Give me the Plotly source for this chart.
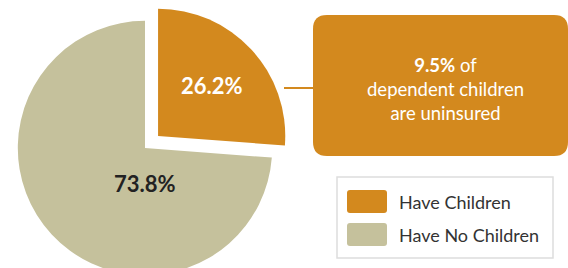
import plotly.graph_objects as go

# ---- data ----
labels = ["Have Children", "Have No Children"]
values = [26.2, 73.8]
colors = ["#D3891E", "#C5C19C"]
text_colors = ["#FFFFFF", "#222222"]
pulls = [0.14, 0.0]
callout_value = "9.5%"
callout_lines = ["of", "dependent children", "are uninsured"]
title_text = "Dependents of the Uninsured without Health Coverage"

W, H = 568, 296
FONT = "Lato"


def px(x):
    return x / W


def py(y):
    return 1 - y / H


fig = go.Figure()
fig.add_trace(go.Pie(
    labels=labels,
    values=values,
    marker=dict(colors=colors, line=dict(width=0)),
    pull=pulls,
    sort=False,
    direction="clockwise",
    rotation=0,
    texttemplate=["%{value:.1f}%", ""],
    textposition="inside",
    insidetextorientation="horizontal",
    insidetextfont=dict(color=text_colors, size=22, family=FONT, weight="bold"),
    domain=dict(x=[0, 290 / W], y=[0, 1]),
    showlegend=False,
    hoverinfo="label+percent",
))


def rounded_rect(x0, y0, x1, y1, r):
    P = lambda x, y: f"{px(x):.5f},{py(y):.5f}"
    return (f"M {P(x0 + r, y0)} L {P(x1 - r, y0)} Q {P(x1, y0)} {P(x1, y0 + r)} "
            f"L {P(x1, y1 - r)} Q {P(x1, y1)} {P(x1 - r, y1)} "
            f"L {P(x0 + r, y1)} Q {P(x0, y1)} {P(x0, y1 - r)} "
            f"L {P(x0, y0 + r)} Q {P(x0, y0)} {P(x0 + r, y0)} Z")


shapes = []
# connector line
shapes.append(dict(type="line", xref="paper", yref="paper",
                   x0=px(284), x1=px(314), y0=py(88), y1=py(88),
                   line=dict(color=colors[0], width=2)))
# callout box
shapes.append(dict(type="path", xref="paper", yref="paper",
                   path=rounded_rect(313, 15, 568, 156, 14),
                   fillcolor=colors[0], line=dict(width=0)))
# legend box
shapes.append(dict(type="rect", xref="paper", yref="paper",
                   x0=px(337), x1=px(553), y0=py(177), y1=py(258),
                   fillcolor="white", line=dict(color="#DDDDDD", width=1.5)))
annotations = []
sw_y = [(190, 213), (223, 246)]
for i, lab in enumerate(labels):
    y0, y1 = sw_y[i]
    shapes.append(dict(type="path", xref="paper", yref="paper",
                       path=rounded_rect(347, y0, 387, y1, 3),
                       fillcolor=colors[i], line=dict(width=0)))
    annotations.append(dict(text=lab, xref="paper", yref="paper",
                            x=px(397), y=py((y0 + y1) / 2), xanchor="left",
                            yanchor="middle", showarrow=False,
                            font=dict(family=FONT, size=18, color="#333333")))

# label of the large slice (placed below the pie centre)
annotations.append(dict(text=f"<b>{values[1]:.1f}%</b>", xref="paper", yref="paper",
                        x=px(145), y=py(183), xanchor="center", yanchor="middle",
                        showarrow=False,
                        font=dict(family=FONT, size=22, color=text_colors[1])))

# callout text
annotations.append(dict(
    text=f"<b>{callout_value}</b> {callout_lines[0]}<br>{callout_lines[1]}<br>{callout_lines[2]}",
    xref="paper", yref="paper", x=px(445), y=py(89),
    xanchor="center", yanchor="middle", showarrow=False, align="center",
    font=dict(family=FONT, size=18.5, color="white")))

# title (mostly cut off at the top)
annotations.append(dict(text=f"<b>{title_text}</b>", xref="paper", yref="paper",
                        x=px(287), y=1, yanchor="bottom", yshift=-3, xanchor="center",
                        showarrow=False, font=dict(family=FONT, size=17, color="#333333")))

fig.update_layout(
    width=W, height=H,
    margin=dict(l=0, r=0, t=0, b=0),
    paper_bgcolor="white", plot_bgcolor="white",
    shapes=shapes, annotations=annotations,
    showlegend=False,
)

fig.write_html("out.html", config={"displayModeBar": False},
               post_script="document.documentElement.style.overflow='hidden';document.body.style.overflow='hidden';document.body.style.margin='0';")
